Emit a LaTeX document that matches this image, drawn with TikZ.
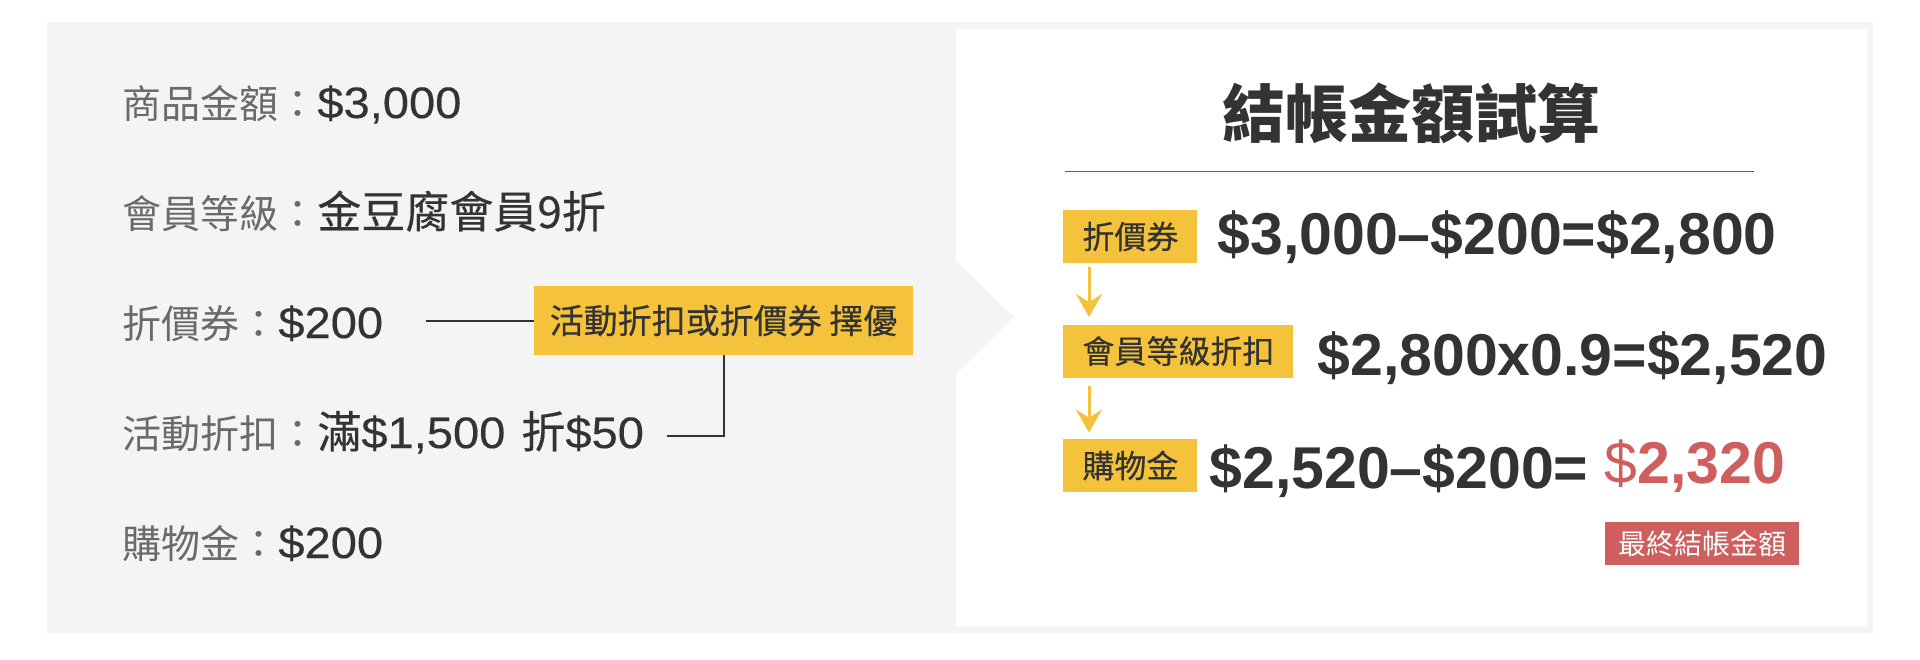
\documentclass[tikz,border=0pt]{standalone}
\usepackage{fontspec}
\usepackage{xcolor}
\usepackage{tikz}
\usetikzlibrary{arrows.meta,positioning,calc}
\setmainfont{Liberation Sans}
\newfontfamily\cjk{Noto Sans CJK TC}
\newfontfamily\cjkmed{Noto Sans CJK TC}[FakeBold=0.4]
\newfontfamily\valfont{Liberation Sans}[FakeStretch=1.07, FakeBold=0.3]
\definecolor{bggray}{HTML}{F4F4F4}
\definecolor{tagyellow}{HTML}{F5C33B}
\definecolor{ink}{HTML}{333333}
\definecolor{labelgray}{HTML}{6A6A6A}
\definecolor{finalred}{HTML}{CF5E5E}
\newcommand{\lbl}[1]{{\color{labelgray}\cjk\fontsize{19.5pt}{22pt}\selectfont #1}}

\begin{document}
\begin{tikzpicture}[x=0.5pt, y=-0.5pt,
    row/.style={anchor=base west, inner sep=0pt, text=ink, font=\valfont\fontsize{22pt}{24pt}\selectfont},
    tag/.style={fill=tagyellow, text=ink, inner xsep=9.5pt, inner ysep=0pt, minimum height=26.5pt, anchor=west, font=\cjkmed\fontsize{16pt}{18pt}\selectfont},
    eq/.style={anchor=base west, inner sep=0pt, text=ink, font=\bfseries\fontsize{29.5pt}{32pt}\selectfont},
    link/.style={draw=ink, line width=1pt},
    flow/.style={draw=tagyellow, line width=1.5pt, -{Stealth[length=11.5pt, width=13pt, inset=4pt]}}
]
\useasboundingbox (0,0) rectangle (1920,659);
\fill[bggray] (47,22) rectangle (1873,633);
\fill[white] (956,29) rectangle (1867,626);
\fill[bggray] (956,261) -- (1014,317) -- (956,374) -- cycle;

\node[row] (price)  at (122,118) {\lbl{商品金額：}\$3,000};
\node[row] (member) at (122,228) {\lbl{會員等級：}{\cjkmed 金豆腐會員9折}};
\node[row] (coupon) at (122,338) {\lbl{折價券：}\$200};
\node[row] (event)  at (122,448) {\lbl{活動折扣：}{\cjkmed 滿}\$1,500\hspace{8pt}{\cjkmed 折}\$50};
\node[row] (credit) at (122,558) {\lbl{購物金：}\$200};

\node[fill=tagyellow, text=ink, inner sep=0pt, minimum width=189.5pt, minimum height=34.5pt, font=\cjkmed\fontsize{17pt}{19pt}\selectfont] (pick) at (723.5,320.5) {活動折扣或折價券 擇優};
\draw[link] ([xshift=21pt]coupon.east |- pick.west) -- (pick.west);
\draw[link] (pick.south) |- ([xshift=11.5pt,yshift=-2pt]event.east);

\node[font=\cjk\bfseries\fontsize{31.5pt}{34pt}\selectfont, text=ink, inner sep=0pt] (title) at (1411,113) {結帳金額試算};
\draw[draw=ink!80, line width=0.5pt] (1065,171) -- (1754,171);

\node[tag] (c1) at (1063,236.5) {折價券};
\node[tag] (c2) at (1063,351) {會員等級折扣};
\node[tag] (c3) at (1063,465.5) {購物金};
\draw[flow] ([xshift=13pt,yshift=-2pt]c1.south west) -- ([xshift=13pt,yshift=3.5pt]c2.north west);
\draw[flow] ([xshift=13pt,yshift=-4pt]c2.south west) -- ([xshift=13pt,yshift=3pt]c3.north west);

\node[eq] (e1) at (1217,254) {\$3,000–\$200=\$2,800};
\node[eq] (e2) at (1317,375) {\$2,800x0.9=\$2,520};
\node[eq] (e3) at (1209,488) {\$2,520–\$200=};
\node[eq, text=finalred] (final) at (1604,483) {{\mdseries\$}2,320};
\node[fill=finalred, text=white, inner sep=0pt, minimum width=97pt, minimum height=21.5pt, font=\cjk\fontsize{14pt}{16pt}\selectfont] (note) at (1702,543.5) {最終結帳金額};
\end{tikzpicture}
\end{document}
